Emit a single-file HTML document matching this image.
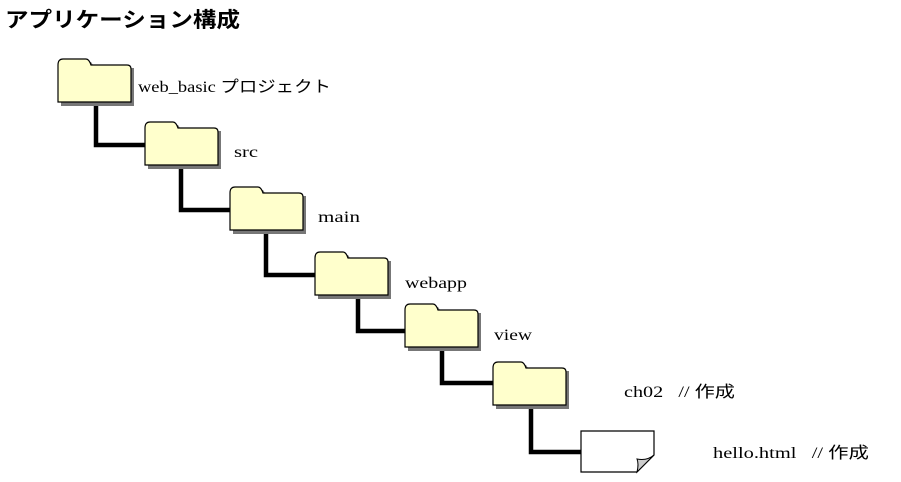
<!DOCTYPE html>
<html><head><meta charset="utf-8"><style>
body{margin:0;width:901px;height:482px;background:#fff;overflow:hidden}
svg{display:block}
.t{font-family:"Liberation Serif","Noto Serif CJK SC",serif;font-size:16px;fill:#000}
</style></head><body>
<svg width="901" height="482" xmlns="http://www.w3.org/2000/svg">
<defs>
<g id="f">
<path d="M3,3 h30 l4,6 h39 v38 h-73 z" fill="#777"/>
<path d="M0,6 q0,-6 5,-6 h23 q3,0 5,6 h36 q4,0 4,4 v33 h-73 z" fill="#ffffcc" stroke="#000" stroke-width="1.2"/>
</g>
</defs>
<text x="5" y="27" font-family="Liberation Sans,'Noto Sans CJK JP',sans-serif" font-size="21" font-weight="bold" textLength="235" lengthAdjust="spacingAndGlyphs">アプリケーション構成</text>
<g stroke="#000" stroke-width="4.5" fill="none">
<path d="M96,102 V145 H145"/>
<path d="M181,166 V210 H230"/>
<path d="M266,231 V275 H315"/>
<path d="M358,297 V331 H405"/>
<path d="M442,349 V383 H493"/>
<path d="M531,407 V452 H581"/>
</g>
<use href="#f" x="58" y="59"/>
<use href="#f" x="145" y="122"/>
<use href="#f" x="230" y="187"/>
<use href="#f" x="315" y="252"/>
<use href="#f" x="405" y="304"/>
<use href="#f" x="493" y="362"/>
<path d="M581,431 h73 v24 l-17,17 h-56 z" fill="#fff" stroke="#000" stroke-width="1.2"/>
<path d="M654,455 l-17,17 q2,-8 0,-13 q10,2 17,-4 z" fill="#ccc" stroke="#000" stroke-width="1"/>
<text class="t" x="138" y="92" textLength="193" lengthAdjust="spacingAndGlyphs">web_basic <tspan font-family="'Noto Sans CJK JP',sans-serif">プロジェクト</tspan></text>
<text class="t" x="234" y="157" textLength="24" lengthAdjust="spacingAndGlyphs">src</text>
<text class="t" x="318" y="222" textLength="42" lengthAdjust="spacingAndGlyphs">main</text>
<text class="t" x="405" y="288" textLength="62" lengthAdjust="spacingAndGlyphs">webapp</text>
<text class="t" x="494" y="340" textLength="38" lengthAdjust="spacingAndGlyphs">view</text>
<text class="t" x="624" y="397" textLength="111" lengthAdjust="spacingAndGlyphs">ch02 &#160; // <tspan font-family="'Noto Sans CJK JP',sans-serif">作成</tspan></text>
<text class="t" x="713" y="458" textLength="156" lengthAdjust="spacingAndGlyphs">hello.html &#160; // <tspan font-family="'Noto Sans CJK JP',sans-serif">作成</tspan></text>
</svg>
</body></html>
